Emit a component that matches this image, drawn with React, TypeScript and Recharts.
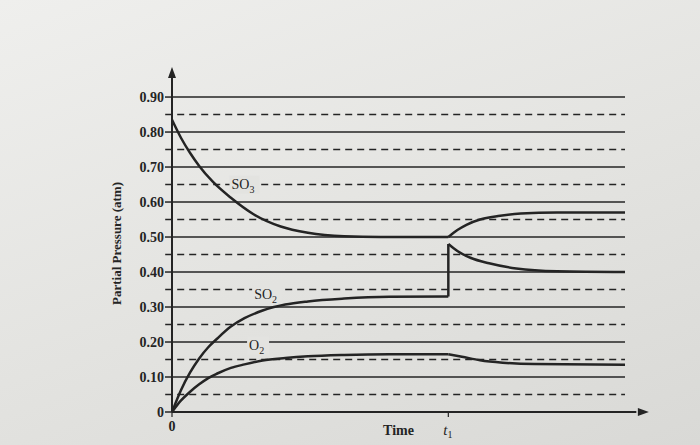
import React from 'react'
import { Label, Line, LineChart, ReferenceDot, ReferenceLine, XAxis, YAxis } from 'recharts'

// time runs 0..100 (arbitrary units), t1 is where SO2 is added
const T1 = 61

const yTicks = [0, 0.1, 0.2, 0.3, 0.4, 0.5, 0.6, 0.7, 0.8, 0.9]
const solidLevels = [0.1, 0.2, 0.3, 0.4, 0.5, 0.6, 0.7, 0.8, 0.9]
const dashedLevels = [0.05, 0.15, 0.25, 0.35, 0.45, 0.55, 0.65, 0.75, 0.85]
const xTicks = [0, T1]

const so3Before = [
  { t: 0, p: 0.835 },
  { t: 2, p: 0.783 },
  { t: 4, p: 0.74 },
  { t: 6, p: 0.703 },
  { t: 9, p: 0.658 },
  { t: 13, p: 0.612 },
  { t: 18, p: 0.565 },
  { t: 24, p: 0.53 },
  { t: 30, p: 0.512 },
  { t: 38, p: 0.502 },
  { t: 46, p: 0.5 },
  { t: 61, p: 0.5 },
]
const so3After = [
  { t: 61, p: 0.5 },
  { t: 63, p: 0.52 },
  { t: 65, p: 0.535 },
  { t: 68, p: 0.55 },
  { t: 72, p: 0.56 },
  { t: 77, p: 0.567 },
  { t: 85, p: 0.57 },
  { t: 100, p: 0.57 },
]
const so2Before = [
  { t: 0, p: 0 },
  { t: 2, p: 0.063 },
  { t: 4, p: 0.113 },
  { t: 6, p: 0.153 },
  { t: 8, p: 0.185 },
  { t: 10, p: 0.21 },
  { t: 13, p: 0.244 },
  { t: 16, p: 0.268 },
  { t: 20, p: 0.29 },
  { t: 25, p: 0.307 },
  { t: 30, p: 0.316 },
  { t: 38, p: 0.324 },
  { t: 48, p: 0.329 },
  { t: 61, p: 0.33 },
]
const so2Jump = [
  { t: 61, p: 0.33 },
  { t: 61, p: 0.48 },
]
const so2After = [
  { t: 61, p: 0.48 },
  { t: 63, p: 0.46 },
  { t: 66, p: 0.44 },
  { t: 70, p: 0.425 },
  { t: 76, p: 0.41 },
  { t: 85, p: 0.402 },
  { t: 100, p: 0.4 },
]
const o2Before = [
  { t: 0, p: 0 },
  { t: 2, p: 0.033 },
  { t: 4, p: 0.058 },
  { t: 6, p: 0.079 },
  { t: 8, p: 0.097 },
  { t: 10, p: 0.11 },
  { t: 13, p: 0.126 },
  { t: 16, p: 0.136 },
  { t: 20, p: 0.147 },
  { t: 25, p: 0.154 },
  { t: 30, p: 0.159 },
  { t: 38, p: 0.163 },
  { t: 48, p: 0.165 },
  { t: 61, p: 0.165 },
]
const o2After = [
  { t: 61, p: 0.165 },
  { t: 64, p: 0.158 },
  { t: 68, p: 0.148 },
  { t: 73, p: 0.141 },
  { t: 80, p: 0.137 },
  { t: 100, p: 0.135 },
]

const INK = '#242424'
const PAPER = '#e3e3e0'
const SERIF = '"Liberation Serif", "DejaVu Serif", serif'

const curveSeries = [so3Before, so3After, so2Before, so2After, o2Before, o2After]

function ArrowUp(props: any) {
  const { cx, cy } = props
  return <path d={`M${cx},${cy - 8} L${cx - 4},${cy + 3} L${cx + 4},${cy + 3} Z`} fill={INK} />
}

function ArrowRight(props: any) {
  const { cx, cy } = props
  return <path d={`M${cx + 8},${cy} L${cx - 3},${cy - 4} L${cx - 3},${cy + 4} Z`} fill={INK} />
}

function TimeTick(props: any) {
  const { x, y, payload } = props
  if (payload.value === 0) {
    return (
      <text x={x} y={y + 12} textAnchor="middle" fill={INK} fontFamily={SERIF} fontSize={14} fontWeight="bold">
        0
      </text>
    )
  }
  return (
    <text x={x - 5} y={y + 16} fill={INK} fontFamily={SERIF} fontSize={15} fontStyle="italic">
      t
      <tspan dy={3} fontSize={10} fontStyle="normal">
        1
      </tspan>
    </text>
  )
}

function CurveTag(props: any) {
  const { cx, cy, base, sub, w } = props
  return (
    <g>
      <rect x={cx - w / 2} y={cy - 9} width={w} height={18} fill={PAPER} />
      <text x={cx - w / 2 + 2} y={cy + 4} fill={INK} fontFamily={SERIF} fontSize={14}>
        {base}
        <tspan dy={4} fontSize={10}>
          {sub}
        </tspan>
      </text>
    </g>
  )
}

export default function App() {
  return (
    <div
      style={{
        position: 'fixed',
        left: 0,
        top: 0,
        width: 700,
        height: 445,
        background: 'linear-gradient(160deg, #efefed 0%, #e3e3e0 55%, #d9d9d6 100%)',
        overflow: 'hidden',
      }}
    >
      <LineChart width={700} height={445} margin={{ top: 75, right: 75, bottom: 3, left: 112 }}>
        <XAxis
          type="number"
          dataKey="t"
          domain={[0, 100]}
          ticks={xTicks}
          height={30}
          axisLine={false}
          tickLine={{ stroke: INK, strokeWidth: 1.2 }}
          tickSize={5}
          tick={TimeTick}
        >
          <Label
            value="Time"
            position="bottom"
            offset={-17}
            fill={INK}
            style={{ fontFamily: SERIF, fontSize: 14, fontWeight: 'bold' }}
          />
        </XAxis>
        <YAxis
          type="number"
          domain={[0, 0.963]}
          ticks={yTicks}
          width={60}
          allowDataOverflow
          axisLine={{ stroke: INK, strokeWidth: 2 }}
          tickLine={{ stroke: INK, strokeWidth: 1.5 }}
          tickSize={7}
          tickMargin={1}
          tick={{ fill: INK, fontFamily: SERIF, fontSize: 14, fontWeight: 'bold' }}
          tickFormatter={(v: number) => (v === 0 ? '0' : v.toFixed(2))}
        >
          <Label
            value="Partial Pressure (atm)"
            angle={-90}
            position="insideLeft"
            offset={4}
            fill={INK}
            style={{ fontFamily: SERIF, fontSize: 13, fontWeight: 'bold', textAnchor: 'middle' }}
          />
        </YAxis>

        {solidLevels.map((v) => (
          <ReferenceLine
            key={`s${v}`}
            segment={[
              { x: 0, y: v },
              { x: 100, y: v },
            ]}
            ifOverflow="visible"
            stroke={INK}
            strokeWidth={1.5}
          />
        ))}
        {dashedLevels.map((v) => (
          <ReferenceLine
            key={`d${v}`}
            segment={[
              { x: -1.5, y: v },
              { x: 100, y: v },
            ]}
            ifOverflow="visible"
            stroke={INK}
            strokeWidth={1.4}
            strokeDasharray="7 5"
          />
        ))}

        <ReferenceLine
          segment={[
            { x: 0, y: 0 },
            { x: 102.5, y: 0 },
          ]}
          ifOverflow="visible"
          stroke={INK}
          strokeWidth={2}
        />
        <ReferenceDot x={0} y={0.963} r={0} ifOverflow="visible" shape={ArrowUp} />
        <ReferenceDot x={103.5} y={0} r={0} ifOverflow="visible" shape={ArrowRight} />

        <ReferenceDot
          x={16}
          y={0.65}
          r={0}
          ifOverflow="visible"
          shape={(p: any) => <CurveTag {...p} base="SO" sub="3" w={30} />}
        />
        <ReferenceDot
          x={21}
          y={0.335}
          r={0}
          ifOverflow="visible"
          shape={(p: any) => <CurveTag {...p} base="SO" sub="2" w={30} />}
        />
        <ReferenceDot
          x={19}
          y={0.19}
          r={0}
          ifOverflow="visible"
          shape={(p: any) => <CurveTag {...p} base="O" sub="2" w={22} />}
        />

        {curveSeries.map((d, i) => (
          <Line
            key={i}
            data={d}
            dataKey="p"
            type="monotone"
            stroke={INK}
            strokeWidth={2.5}
            dot={false}
            isAnimationActive={false}
          />
        ))}
        <Line
          data={so2Jump}
          dataKey="p"
          type="linear"
          stroke={INK}
          strokeWidth={2.5}
          dot={false}
          isAnimationActive={false}
        />
      </LineChart>
    </div>
  )
}
